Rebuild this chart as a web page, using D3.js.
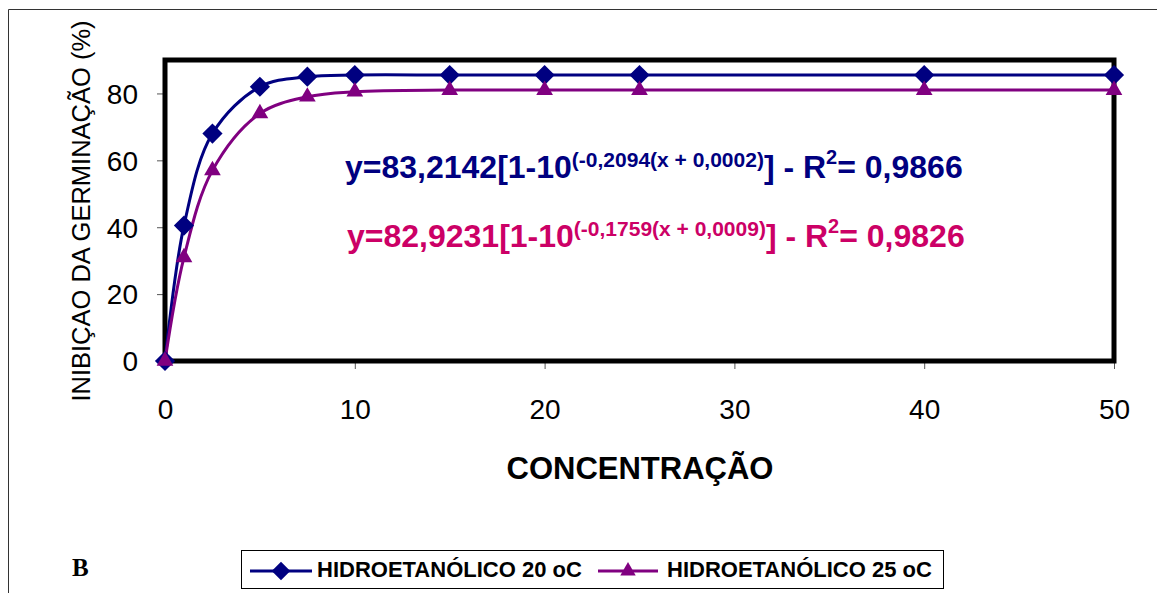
<!DOCTYPE html>
<html>
<head>
<meta charset="utf-8">
<script src="https://cdn.jsdelivr.net/npm/d3@7"></script>
<style>
  html, body { margin: 0; padding: 0; background: #fff; }
  svg { display: block; }
</style>
</head>
<body>
<svg id="chart" width="1157" height="593"></svg>
<script>
// ---- data ----
const concentrations = [0, 1, 2.5, 5, 7.5, 10, 15, 20, 25, 40, 50];
const series20 = [0, 40.5, 68, 82, 85, 85.5, 85.5, 85.5, 85.5, 85.5, 85.5];
const series25 = [0, 31, 57, 74, 79, 80.5, 81, 81, 81, 81, 81];
const seriesNames = ["HIDROETANÓLICO 20 oC", "HIDROETANÓLICO 25 oC"];
const xTicks = [0, 10, 20, 30, 40, 50];
const yTicks = [0, 20, 40, 60, 80];
const xTitle = "CONCENTRAÇÃO";
const yTitle = "INIBIÇAO DA GERMINAÇÃO (%)";
const panelLabel = "B";

const colors = ["#000080", "#800080"];
const eqColors = ["#000080", "#cc0066"];
const SANS = '"Liberation Sans", Arial, sans-serif';
const SERIF = '"Liberation Serif", "Times New Roman", serif';

const svg = d3.select("#chart").style("font-family", SANS);

// outer frame
svg.append("path")
  .attr("d", "M8.5,600 L8.5,9.5 L1170,9.5")
  .attr("fill", "none").attr("stroke", "#333").attr("stroke-width", 1);

const L = 165, R = 1114, T = 60, B = 361;
const x = d3.scaleLinear().domain([0, 50]).range([L, R]);
const y = d3.scaleLinear().domain([0, 90]).range([B, T]);

// ticks
const gx = svg.append("g").attr("transform", `translate(0,${B})`)
  .call(d3.axisBottom(x).tickValues(xTicks).tickSize(8).tickFormat(d3.format("d")));
gx.select(".domain").remove();
gx.selectAll("line").attr("stroke", "#555");
gx.selectAll("text").attr("font-size", 28).attr("fill", "#000")
  .attr("font-family", SANS).attr("dy", "0").attr("y", 58);

const gy = svg.append("g").attr("transform", `translate(${L},0)`)
  .call(d3.axisLeft(y).tickValues(yTicks).tickSize(8).tickPadding(19).tickFormat(d3.format("d")));
gy.select(".domain").remove();
gy.selectAll("line").attr("stroke", "#555");
gy.selectAll("text").attr("font-size", 28).attr("fill", "#000")
  .attr("font-family", SANS).attr("dy", "0.35em");

// plot border
svg.append("rect")
  .attr("x", L).attr("y", T).attr("width", R - L).attr("height", B - T)
  .attr("fill", "none").attr("stroke", "#000").attr("stroke-width", 5);

// axis titles
svg.append("text").attr("x", 640).attr("y", 479).attr("text-anchor", "middle")
  .attr("font-size", 31).attr("font-weight", "bold").text(xTitle);
svg.append("text").attr("transform", "translate(90,211) rotate(-90)")
  .attr("text-anchor", "middle").attr("font-size", 25.5).text(yTitle);

// series
const allSeries = [series20, series25];
const line = d3.line().x(d => x(d[0])).y(d => y(d[1])).curve(d3.curveCatmullRom.alpha(0.5));
allSeries.forEach((s, i) => {
  const pts = concentrations.map((c, j) => [c, s[j]]);
  svg.append("path").datum(pts).attr("d", line)
    .attr("fill", "none").attr("stroke", colors[i]).attr("stroke-width", 3);
});
const diamond = d3.symbol().type(d3.symbolDiamond2).size(260);
const tri = d3.symbol().type(d3.symbolTriangle2).size(200);
allSeries.forEach((s, i) => {
  svg.append("g").selectAll("path").data(concentrations.map((c, j) => [c, s[j]]))
    .join("path")
    .attr("transform", d => `translate(${x(d[0])},${y(d[1])})`)
    .attr("d", i === 0 ? diamond : tri)
    .attr("fill", colors[i]);
});

// equations
const eqs = [
  { main: "y=83,2142[1-10", sup: "(-0,2094(x + 0,0002)", r2: "0,9866", yb: 178, xs: 345 },
  { main: "y=82,9231[1-10", sup: "(-0,1759(x + 0,0009)", r2: "0,9826", yb: 247, xs: 347 }
];
eqs.forEach((e, i) => {
  const t = svg.append("text").attr("x", e.xs).attr("y", e.yb)
    .attr("font-size", 32).attr("font-weight", "bold").attr("fill", eqColors[i]);
  t.append("tspan").text(e.main);
  t.append("tspan").attr("font-size", 21).attr("dy", -11).text(e.sup);
  t.append("tspan").attr("dy", 11).text("] - R");
  t.append("tspan").attr("font-size", 20).attr("dy", -14).text("2");
  t.append("tspan").attr("dy", 14).text("= " + e.r2);
});

// panel label
svg.append("text").attr("x", 72).attr("y", 576).attr("font-size", 25)
  .attr("font-weight", "bold").style("font-family", SERIF)
  .text(panelLabel);

// legend
svg.append("rect").attr("x", 241.5).attr("y", 550.5).attr("width", 702).attr("height", 38)
  .attr("fill", "#fff").attr("stroke", "#000").attr("stroke-width", 1);
const legItems = [{ x0: 250, x1: 312, tx: 317 }, { x0: 598, x1: 658, tx: 667 }];
const legY = 571;
legItems.forEach((it, i) => {
  svg.append("line").attr("x1", it.x0).attr("x2", it.x1).attr("y1", legY).attr("y2", legY)
    .attr("stroke", colors[i]).attr("stroke-width", 3);
  svg.append("path").attr("transform", `translate(${(it.x0 + it.x1) / 2},${legY})`)
    .attr("d", i === 0 ? d3.symbol().type(d3.symbolDiamond2).size(220) : d3.symbol().type(d3.symbolTriangle2).size(170))
    .attr("fill", colors[i]);
  svg.append("text").attr("x", it.tx).attr("y", 577).attr("font-size", 22)
    .attr("font-weight", "bold").text(seriesNames[i]);
});
</script>
</body>
</html>
